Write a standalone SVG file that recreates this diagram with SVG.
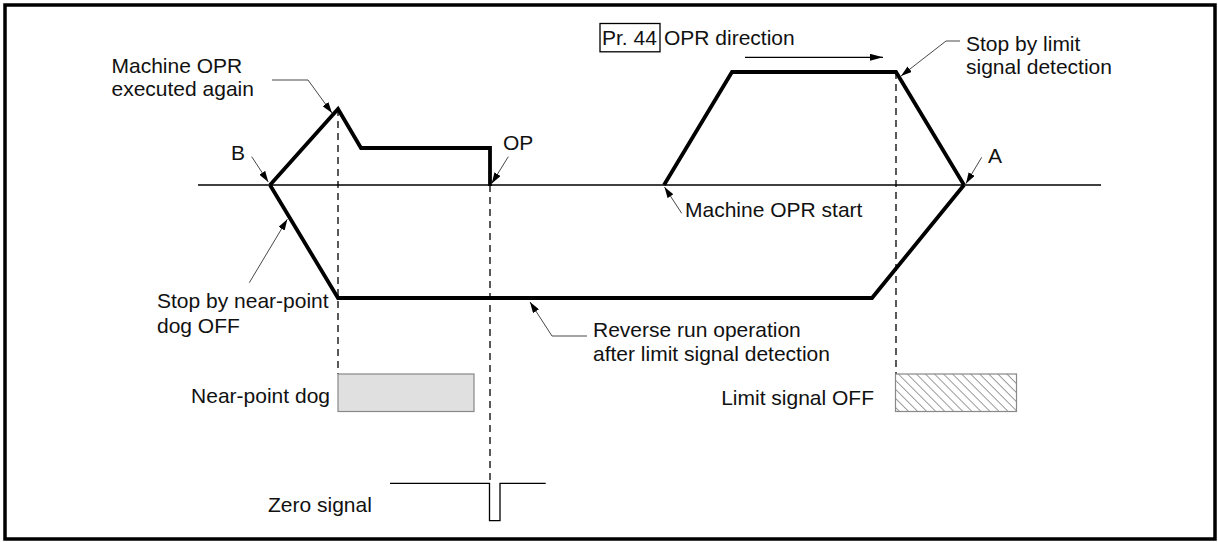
<svg xmlns="http://www.w3.org/2000/svg" width="1218" height="542" viewBox="0 0 1218 542">
<style>
text{font-family:"Liberation Sans",Arial,sans-serif;font-size:21px;fill:#111}
.thick{fill:none;stroke:#000;stroke-width:3.8;stroke-linejoin:miter}
.thin{fill:none;stroke:#000;stroke-width:1.3}
.dash{fill:none;stroke:#000;stroke-width:1.3;stroke-dasharray:7 5}
.lead{fill:none;stroke:#333;stroke-width:0.9}
.end{text-anchor:end}
</style>
<defs>
<marker id="ah" markerUnits="userSpaceOnUse" markerWidth="11" markerHeight="7" refX="11" refY="3.5" orient="auto">
<path d="M0,0 L11,3.5 L0,7 z" fill="#000"/>
</marker>
<marker id="ah2" markerUnits="userSpaceOnUse" markerWidth="13" markerHeight="7" refX="13" refY="3.5" orient="auto">
<path d="M0,0 L13,3.5 L0,7 z" fill="#000"/>
</marker>
<pattern id="hatch" patternUnits="userSpaceOnUse" width="6.4" height="6.4" patternTransform="rotate(45)">
<line x1="0" y1="0.5" x2="6.4" y2="0.5" stroke="#555" stroke-width="0.6"/>
</pattern>
</defs>
<rect id="frame" x="5" y="5" width="1210" height="534" fill="#fff" stroke="#000" stroke-width="3.5"/>

<g id="axis">
<line class="thin" x1="198" y1="185" x2="1101" y2="185"/>
</g>

<g id="dashes">
<line class="dash" x1="338" y1="109" x2="338" y2="374"/>
<line class="dash" x1="490" y1="185" x2="490" y2="483"/>
<line class="dash" x1="896" y1="72" x2="896" y2="374"/>
</g>

<g id="speed-profile">
<path class="thick" d="M664,185 L732,72 H896 L964,185"/>
<path class="thick" d="M270,185 L338,298 H872 L964,185"/>
<path class="thick" d="M270,185 L338,109 L361,148 H490 V186"/>
</g>

<g id="near-point-dog">
<rect x="338" y="374" width="136" height="37.5" fill="#e0e0e0" stroke="#888" stroke-width="1.2"/>
<text class="end" x="330" y="403">Near-point dog</text>
</g>

<g id="limit-signal">
<rect x="895.5" y="374" width="121" height="37.5" fill="url(#hatch)" stroke="#888" stroke-width="1.2"/>
<text class="end" x="874" y="405">Limit signal OFF</text>
</g>

<g id="zero-signal">
<path class="thin" d="M390,483.3 H489.5 V520.7 H500 V483.3 H545.7"/>
<text x="268" y="512">Zero signal</text>
</g>

<g id="opr-direction">
<rect x="600" y="23.5" width="60" height="28.3" fill="none" stroke="#000" stroke-width="1.3"/>
<text x="602" y="45">Pr. 44</text>
<text x="664" y="45">OPR direction</text>
<line class="thin" x1="745" y1="57.3" x2="883" y2="57.3" marker-end="url(#ah2)"/>
</g>

<g id="connectors">
<path class="lead" d="M272,80 H308 L332,113" marker-end="url(#ah)"/>
<path class="lead" d="M251.7,156.7 L268.3,182" marker-end="url(#ah)"/>
<path class="lead" d="M508.3,156.7 L491.7,183.5" marker-end="url(#ah)"/>
<path class="lead" d="M981.7,157.3 L966,183.5" marker-end="url(#ah)"/>
<path class="lead" d="M960,41 H946 L901,76" marker-end="url(#ah)"/>
<path class="lead" d="M249.3,282.7 L287.3,219.3" marker-end="url(#ah)"/>
<path class="lead" d="M587,336 H552 L530,302" marker-end="url(#ah)"/>
<path class="lead" d="M681.7,213.3 L664.5,187" marker-end="url(#ah)"/>
</g>

<g id="labels">
<text x="111.5" y="72.7">Machine OPR</text>
<text x="111.5" y="95.5">executed again</text>
<text x="231" y="160">B</text>
<text x="503" y="149.5">OP</text>
<text x="988" y="163">A</text>
<text x="966" y="51">Stop by limit</text>
<text x="966" y="73.5">signal detection</text>
<text x="685" y="216.7">Machine OPR start</text>
<text x="157" y="308.3">Stop by near-point</text>
<text x="157" y="332.7">dog OFF</text>
<text x="593" y="336.7">Reverse run operation</text>
<text x="593" y="360.7">after limit signal detection</text>
</g>
</svg>
